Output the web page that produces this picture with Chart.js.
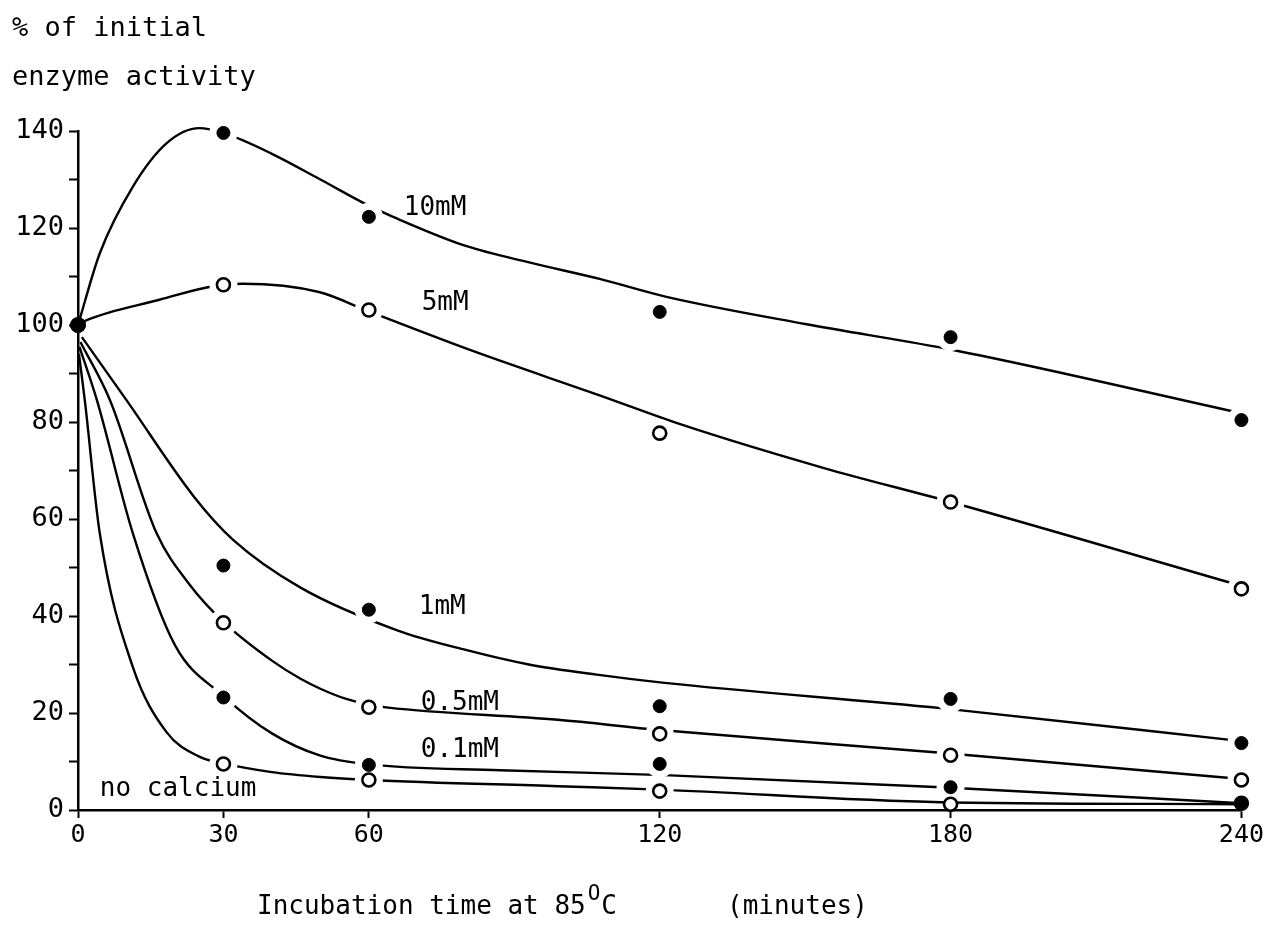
<!DOCTYPE html>
<html>
<head>
<meta charset="utf-8">
<title>Enzyme activity vs incubation time</title>
<script src="https://cdn.jsdelivr.net/npm/chart.js@4/dist/chart.umd.min.js"></script>
<style>
  html, body { margin: 0; padding: 0; background: #fff; }
  #chart { display: block; }
</style>
</head>
<body>
<canvas id="chart" width="1266" height="929"></canvas>
<script>
// ---- data ----
const times = [0, 30, 60, 120, 180, 240];
const xTicks = [0, 30, 60, 120, 180, 240];

// measured points (filled = solid dot, open = hollow circle)
const pts10mM   = [100, 139.6, 122.3, 102.7, 97.5, 80.4];
const pts5mM    = [100, 108.3, 103.1, 77.7, 63.5, 45.6];
const pts1mM    = [100, 50.4, 41.3, 21.4, 22.9, 13.8];
const pts05mM   = [100, 38.6, 21.2, 15.7, 11.3, 6.2];
const pts01mM   = [100, 23.2, 9.3, 9.5, 4.7, 1.4];
const ptsNoCa   = [100, 9.5, 6.2, 3.9, 1.2, 1.4];

// hand-drawn fitted curves (x = minutes, y = %)
const curve10mMX = [0, 4.5, 11.3, 18.3, 25, 30, 40, 50, 60, 65, 80, 93.5, 107.6, 121.4, 150, 180.8, 240];
const curve10mMY = [100, 114.8, 128.5, 137.5, 140.6, 139.6, 135.3, 130, 124.6, 122.3, 116.3, 112.8, 109.5, 105.8, 100.2, 94.8, 81.8];
const curve5mMX  = [0, 1.8, 16.8, 27.8, 34, 49.7, 60, 81, 107.3, 124.7, 153.9, 180, 240];
const curve5mMY  = [100, 101, 105.2, 108, 108.5, 106.8, 102.8, 94.8, 85.6, 79.4, 70.5, 63.5, 46.2];
const curve1mMX  = [0.8, 10, 24, 32, 46, 66, 80, 93, 107, 121, 178, 240];
const curve1mMY  = [97.5, 84.5, 64.5, 55.7, 45.8, 37, 33, 30, 27.9, 26.2, 21, 14.2];
const curve05mMX = [0.5, 6.6, 16.2, 23, 30, 40, 46, 50, 55, 60, 64, 99, 120, 178, 240];
const curve05mMY = [96.5, 84.5, 57.1, 46.5, 38.8, 30.8, 27, 25, 23, 21.7, 21.1, 18.6, 16.5, 11.8, 6.4];
const curve01mMX = [0.3, 3.9, 11.3, 20, 30, 40, 50, 60, 87, 121, 178, 240];
const curve01mMY = [95.5, 84.5, 57.1, 34, 23.5, 15.8, 11.2, 9.4, 8.2, 7.2, 4.7, 1.4];
const curveNoCaX = [0.2, 1.4, 4.5, 11.3, 18.3, 25, 30, 40, 50, 60, 99, 120, 178, 240];
const curveNoCaY = [94, 84.5, 57, 29.5, 16, 11, 9.6, 7.8, 6.8, 6.2, 4.9, 4.2, 1.6, 1.2];

// ---- helpers ----
const zip = (xs, ys) => xs.map((x, i) => ({ x, y: ys[i] }));
const FONT = '"DejaVu Sans Mono", "Liberation Mono", monospace';

function curve(label, xs, ys) {
  return {
    label, data: zip(xs, ys), type: 'line', order: 2, clip: false,
    borderColor: '#000', borderWidth: 2.4, pointRadius: 0,
    cubicInterpolationMode: 'monotone', fill: false
  };
}

// white discs that open a small gap in the curves around each marker
function gaps(label, ys) {
  return {
    label: label + ' gap', data: zip(times, ys), type: 'line', order: 1, clip: false,
    showLine: false, pointBorderWidth: 0, pointBorderColor: '#fff', pointBackgroundColor: '#fff',
    pointRadius: ys.map((v, i) => (i === 0 || v < 3) ? 0 : 14)
  };
}

function markers(label, ys, filled) {
  return {
    label: label + ' pts', data: zip(times, ys), type: 'line', order: 0, clip: false,
    showLine: false, pointRadius: 6.5, pointBorderWidth: filled ? 1 : 2.6,
    pointBorderColor: '#000', pointBackgroundColor: filled ? '#000' : '#fff'
  };
}

// curve labels, placed in data coordinates
const curveLabels = [
  { text: '10mM',       x: 67.2, y: 124.1 },
  { text: '5mM',        x: 70.9, y: 104.5 },
  { text: '1mM',        x: 70.3, y: 41.9 },
  { text: '0.5mM',      x: 70.7, y: 22.1 },
  { text: '0.1mM',      x: 70.7, y: 12.4 },
  { text: 'no calcium', x: 4.5,  y: 4.2 }
];

const textPlugin = {
  id: 'figText',
  afterDraw(chart) {
    const { ctx, scales: { x, y } } = chart;
    ctx.save();
    ctx.fillStyle = '#000';
    ctx.textBaseline = 'middle';
    ctx.textAlign = 'left';

    ctx.font = '26px ' + FONT;
    curveLabels.forEach(l => {
      ctx.fillText(l.text, x.getPixelForValue(l.x), y.getPixelForValue(l.y));
    });

    // y axis title (two lines, top left)
    ctx.font = '27px ' + FONT;
    ctx.fillText('% of initial', 12, 29);
    ctx.fillText('enzyme activity', 12, 78);

    // x axis title with superscript "O" for degrees
    ctx.font = '26px ' + FONT;
    let px = 257;
    const base = 907;
    ctx.fillText('Incubation time at 85', px, base);
    px += ctx.measureText('Incubation time at 85').width + 2;
    ctx.font = '21px ' + FONT;
    ctx.fillText('O', px, base - 12);
    px += ctx.measureText('O').width + 1;
    ctx.font = '26px ' + FONT;
    ctx.fillText('C', px, base);
    ctx.fillText('(minutes)', 727, base);
    ctx.restore();
  }
};

const datasets = [
  markers('10mM', pts10mM, true),
  markers('5mM', pts5mM, false),
  markers('1mM', pts1mM, true),
  markers('0.5mM', pts05mM, false),
  markers('0.1mM', pts01mM, true),
  markers('no calcium', ptsNoCa, false),
  gaps('10mM', pts10mM),
  gaps('5mM', pts5mM),
  gaps('1mM', pts1mM),
  gaps('0.5mM', pts05mM),
  gaps('0.1mM', pts01mM),
  gaps('no calcium', ptsNoCa),
  curve('10mM', curve10mMX, curve10mMY),
  curve('5mM', curve5mMX, curve5mMY),
  curve('1mM', curve1mMX, curve1mMY),
  curve('0.5mM', curve05mMX, curve05mMY),
  curve('0.1mM', curve01mMX, curve01mMY),
  curve('no calcium', curveNoCaX, curveNoCaY)
];

new Chart(document.getElementById('chart'), {
  type: 'line',
  data: { datasets },
  options: {
    responsive: false,
    animation: false,
    devicePixelRatio: 1,
    layout: { padding: { top: 131, right: 20, left: 0, bottom: 0 } },
    plugins: { legend: { display: false }, tooltip: { enabled: false }, title: { display: false } },
    scales: {
      x: {
        type: 'linear', min: 0, max: 240,
        afterBuildTicks: s => { s.ticks = xTicks.map(v => ({ value: v })); },
        afterFit: s => { s.height = 119; },
        ticks: { autoSkip: false, maxRotation: 0, padding: 2, color: '#000', font: { family: FONT, size: 25 } },
        grid: { drawOnChartArea: false, drawTicks: true, tickLength: 8, tickWidth: 2, color: '#000' },
        border: { display: true, color: '#000', width: 2.5 }
      },
      y: {
        type: 'linear', min: 0, max: 140,
        afterFit: s => { s.width = 78; },
        ticks: {
          stepSize: 10, padding: 5, color: '#000', font: { family: FONT, size: 27 },
          callback: v => (v % 20 === 0 ? v : '')
        },
        grid: { drawOnChartArea: false, drawTicks: true, tickLength: 9, tickWidth: 2, color: '#000' },
        border: { display: true, color: '#000', width: 2.5 }
      }
    }
  },
  plugins: [textPlugin]
});
</script>
</body>
</html>
